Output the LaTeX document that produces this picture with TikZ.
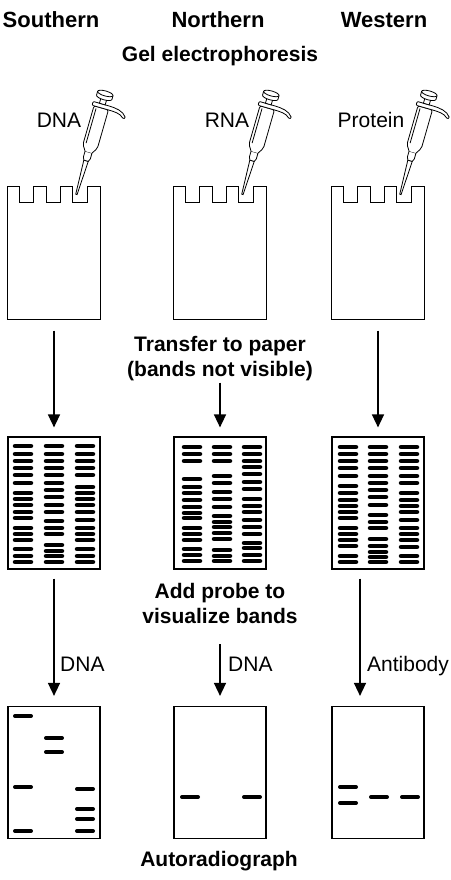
\documentclass[tikz,border=0pt]{standalone}
\usepackage{fontspec}
\setmainfont{Liberation Sans}
\usetikzlibrary{arrows.meta}

\tikzset{
  wall/.style={line width=1.2pt},
  box/.style={draw, wall, minimum width=92pt, minimum height=132pt, inner sep=0pt},
  gel/.style={box, draw=none},
  head/.style={font=\bfseries\fontsize{21}{25}\selectfont, inner sep=0pt, anchor=base},
  title/.style={head, font=\bfseries\fontsize{22}{26}\selectfont},
  lab/.style={font=\fontsize{21}{25}\selectfont, inner sep=0pt, anchor=base},
  band/.style={line width=4.5pt, line cap=round},
  spot/.style={line width=4pt, line cap=round},
  arr/.style={line width=1.5pt, -{Triangle[length=13pt, width=12pt]}},
  pics/pipette/.style={code={
    \begin{scope}[yscale=-1, line width=0.8pt]
      % tip
      \filldraw[fill=white] (-0.7,0) -- (-2.3,35) -- (2.3,35) -- (0.7,0) -- cycle;
      % collar
      \filldraw[fill=white] (-2.3,35) -- (-3.6,38) -- (-3.6,44) -- (3.6,44) -- (3.6,38) -- (2.3,35) -- cycle;
      % barrel
      \filldraw[fill=white, rounded corners=2pt] (-3.6,44) -- (-7.5,50) -- (-7.5,90) -- (7.5,90) -- (7.5,50) -- (3.6,44);
      \draw (-4.8,52) -- (-4.8,88);
      % finger rest
      \filldraw[fill=white, rounded corners=1pt] (-9.5,90) -- (-9.5,94) -- (6,94)
        .. controls (14,94) and (22,93) .. (26,87) -- (24,85.5)
        .. controls (20,90) and (13,90) .. (7,90) -- cycle;
      % rod
      \filldraw[fill=white] (-3,94) rectangle (3,101);
      % push button
      \filldraw[fill=white] (-8,101) -- (-8,105) arc[start angle=180, end angle=0, x radius=8, y radius=2.5]
        -- (8,101) arc[start angle=0, end angle=-180, x radius=8, y radius=2.5] -- cycle;
      \draw (-8,105) arc[start angle=180, end angle=360, x radius=8, y radius=2.5];
    \end{scope}
  }}
}

% gel outline with three loading wells
\newcommand{\wells}[1]{%
  \draw[wall] (#1.south west) -- (#1.north west) -- ++(12,0) -- ++(0,16) -- ++(14,0) -- ++(0,-16)
    -- ++(13,0) -- ++(0,16) -- ++(14,0) -- ++(0,-16) -- ++(12,0) -- ++(0,16) -- ++(15,0) -- ++(0,-16)
    -- (#1.north east) -- (#1.south east) -- cycle;}
% one lane of bands
\newcommand{\lane}[3][band]{\foreach \y in {#3} \draw[#1] (#2-8,\y) -- (#2+8,\y);}

\begin{document}
\begin{tikzpicture}[x=1pt, y=-1pt]
  \useasboundingbox (0,0) rectangle (450,880);

  \node[title] (south) at (51,28) {Southern};
  \node[title] (north) at (218,28) {Northern};
  \node[title] (west) at (384,28) {Western};
  \node[head] (gelhead) at (220,62) {Gel electrophoresis};

  % gels and samples
  \node[gel] (gelS) at (54,253) {};
  \node[gel] (gelN) at (220,253) {};
  \node[gel] (gelW) at (378,253) {};
  \wells{gelS}
  \wells{gelN}
  \wells{gelW}
  \pic[rotate=-16] at ([xshift=69pt, yshift=-8pt]gelS.north west) {pipette};
  \pic[rotate=-16] at ([xshift=69pt, yshift=-8pt]gelN.north west) {pipette};
  \pic[rotate=-16] at ([xshift=69pt, yshift=-8pt]gelW.north west) {pipette};
  \node[lab] (dna) at (59,128) {DNA};
  \node[lab] (rna) at (227,128) {RNA};
  \node[lab] (prot) at (371,128) {Protein};

  % transfer
  \node[head] (trans) at (220,351) {Transfer to paper};
  \node[head] (transnote) at (220,376) {(bands not visible)};
  \node[box] (blotS) at (54,503) {};
  \node[box] (blotN) at (220,503) {};
  \node[box] (blotW) at (378,503) {};
  \draw[arr, shorten <=11pt, shorten >=9pt] (gelS) -- (blotS);
  \draw[arr, shorten <=2pt, shorten >=9pt] (transnote) -- (blotN);
  \draw[arr, shorten <=11pt, shorten >=9pt] (gelW) -- (blotW);

  \lane{23}{446,454,461,468,475,483,493,499,505,512,518,528,534,540,549,556,562}
  \lane{54}{446,454,461,468,475,483,490,497,505,512,521,528,534,545,551,556,562}
  \lane{85}{446,454,461,468,475,487,493,499,505,512,520,528,534,540,549,556,562}
  \lane{192}{447,454,461,479,487,493,500,507,513,518,528,534,540,549,555,561}
  \lane{222}{447,454,461,476,483,492,499,507,516,522,527,533,539,550,556,561}
  \lane{252}{447,454,461,467,474,482,489,499,506,512,520,527,534,543,548,555,561}
  \lane{348}{447,454,461,468,476,486,493,500,506,512,518,528,534,540,546,556,562}
  \lane{378}{447,454,461,468,476,483,490,497,505,515,522,528,539,546,552,557,562}
  \lane{409}{447,454,461,468,476,483,493,500,506,512,520,528,534,540,547,556,562}

  % probing
  \node[head] (probe) at (220,598) {Add probe to};
  \node[head] (probenote) at (220,623) {visualize bands};
  \node[box] (filmS) at (54,772.5) {};
  \node[box] (filmN) at (220,772.5) {};
  \node[box] (filmW) at (378,772.5) {};
  \draw[arr, shorten <=9pt, shorten >=10pt] (blotS) -- (filmS);
  \draw[arr, shorten <=21pt, shorten >=10pt] (probenote) -- (filmN);
  \draw[arr, shorten <=9pt, shorten >=10pt] ([xshift=-18pt]blotW.south) -- ([xshift=-18pt]filmW.north);
  \node[lab, anchor=base west] (probeS) at (60,671) {DNA};
  \node[lab, anchor=base west] (probeN) at (228,671) {DNA};
  \node[lab, anchor=base west] (probeW) at (367,671) {Antibody};

  \lane[spot]{23}{716,787,831}
  \lane[spot]{54}{738,752}
  \lane[spot]{85}{789,809,819,831}
  \lane[spot]{190}{797}
  \lane[spot]{252}{797}
  \lane[spot]{348}{787,803}
  \lane[spot]{379}{797}
  \lane[spot]{410}{797}

  \node[head] (autorad) at (219,866) {Autoradiograph};
\end{tikzpicture}
\end{document}
